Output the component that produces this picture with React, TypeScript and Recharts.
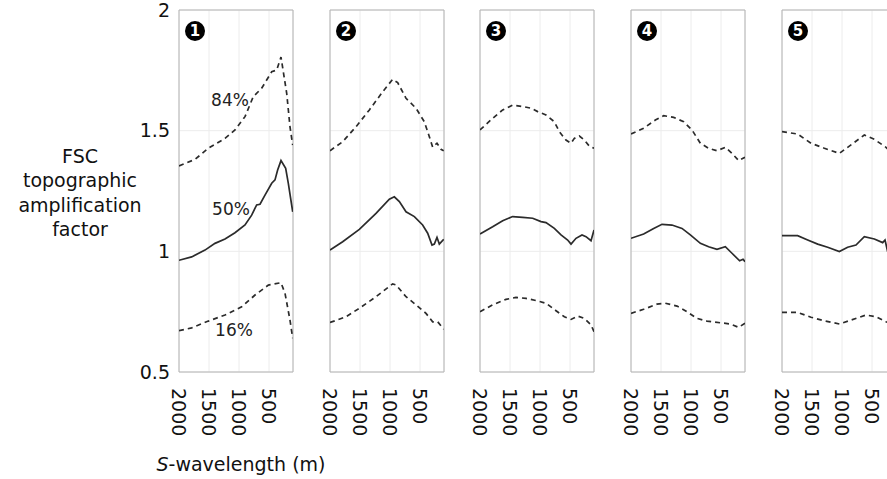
import React from "react";
import {
  LineChart,
  Line,
  XAxis,
  YAxis,
  CartesianGrid,
  ReferenceArea,
  ReferenceDot,
} from "recharts";

type Pt = { w: number; v: number };
const mk = (w: number[], v: number[]): Pt[] => w.map((x, i) => ({ w: x, v: v[i] }));

// ---- Panel 1 ----
const p1HighW = [2000, 1733, 1511, 1233, 1067, 900, 762, 622, 455, 372, 300, 205, 150, 105];
const p1HighV = [1.354, 1.381, 1.427, 1.468, 1.503, 1.558, 1.641, 1.676, 1.744, 1.751, 1.805, 1.655, 1.516, 1.44];
const p1MedW = [2000, 1789, 1567, 1400, 1233, 1067, 900, 789, 706, 650, 567, 455, 400, 356, 300, 222, 178, 105];
const p1MedV = [0.963, 0.977, 1.005, 1.033, 1.051, 1.077, 1.109, 1.15, 1.192, 1.195, 1.233, 1.282, 1.296, 1.337, 1.376, 1.344, 1.282, 1.164];
const p1LowW = [2000, 1789, 1511, 1233, 956, 733, 511, 300, 233, 150, 105];
const p1LowV = [0.671, 0.683, 0.711, 0.736, 0.77, 0.819, 0.86, 0.87, 0.826, 0.715, 0.64];

// ---- Panel 2 ----
const p2HighW = [2000, 1789, 1567, 1344, 1122, 956, 872, 733, 567, 428, 344, 289, 217, 150, 105];
const p2HighV = [1.417, 1.454, 1.516, 1.586, 1.661, 1.713, 1.699, 1.634, 1.593, 1.537, 1.475, 1.431, 1.448, 1.423, 1.417];
const p2MedW = [2000, 1789, 1511, 1233, 1011, 928, 844, 733, 594, 456, 372, 300, 261, 217, 178, 105];
const p2MedV = [1.005, 1.04, 1.091, 1.157, 1.216, 1.226, 1.206, 1.164, 1.144, 1.109, 1.075, 1.026, 1.03, 1.058, 1.03, 1.05];
const p2LowW = [2000, 1733, 1511, 1233, 956, 900, 733, 567, 400, 289, 205, 105];
const p2LowV = [0.705, 0.729, 0.764, 0.812, 0.865, 0.861, 0.812, 0.778, 0.743, 0.708, 0.708, 0.677];

// ---- Panel 3 ----
const p3HighW = [2000, 1789, 1622, 1456, 1289, 1150, 1039, 900, 761, 678, 567, 483, 428, 344, 261, 178, 100];
const p3HighV = [1.503, 1.551, 1.586, 1.606, 1.6, 1.593, 1.579, 1.565, 1.537, 1.496, 1.461, 1.448, 1.468, 1.478, 1.461, 1.436, 1.427];
const p3MedW = [2000, 1789, 1622, 1456, 1289, 1122, 983, 900, 761, 650, 539, 483, 400, 300, 233, 150, 100];
const p3MedV = [1.072, 1.102, 1.127, 1.144, 1.141, 1.137, 1.123, 1.119, 1.095, 1.068, 1.047, 1.03, 1.054, 1.068, 1.061, 1.044, 1.088];
const p3LowW = [2000, 1789, 1567, 1400, 1233, 1067, 900, 733, 594, 483, 372, 261, 150, 100];
const p3LowV = [0.75, 0.778, 0.801, 0.809, 0.805, 0.796, 0.785, 0.754, 0.729, 0.718, 0.732, 0.722, 0.695, 0.667];

// ---- Panel 4 ----
const p4HighW = [2000, 1789, 1594, 1456, 1289, 1122, 983, 844, 706, 567, 428, 317, 206, 100];
const p4HighV = [1.486, 1.51, 1.544, 1.562, 1.555, 1.537, 1.503, 1.448, 1.427, 1.417, 1.431, 1.406, 1.376, 1.39];
const p4MedW = [2000, 1789, 1622, 1483, 1317, 1150, 1011, 844, 706, 567, 428, 317, 189, 133, 100];
const p4MedV = [1.054, 1.072, 1.095, 1.112, 1.109, 1.095, 1.068, 1.033, 1.019, 1.008, 1.019, 0.992, 0.961, 0.967, 0.957];
const p4LowW = [2000, 1789, 1567, 1428, 1233, 1067, 900, 733, 511, 344, 206, 100];
const p4LowV = [0.743, 0.76, 0.781, 0.785, 0.773, 0.75, 0.722, 0.711, 0.704, 0.699, 0.685, 0.702];

// ---- Panel 5 ----
const p5HighW = [2000, 1739, 1517, 1294, 1044, 850, 628, 461, 267, 180, 100];
const p5HighV = [1.496, 1.486, 1.448, 1.427, 1.406, 1.441, 1.482, 1.464, 1.431, 1.41, 1.4];
const p5MedW = [2000, 1739, 1572, 1405, 1239, 1044, 906, 767, 628, 461, 322, 283, 240, 100];
const p5MedV = [1.065, 1.065, 1.047, 1.03, 1.017, 0.999, 1.017, 1.026, 1.061, 1.051, 1.036, 1.047, 1.0, 1.0];
const p5LowW = [2000, 1739, 1517, 1294, 1044, 850, 600, 433, 267, 180, 100];
const p5LowV = [0.747, 0.747, 0.727, 0.712, 0.699, 0.715, 0.736, 0.729, 0.708, 0.7, 0.69];

const panelNames = ["1", "2", "3", "4", "5"];
const xTicks = [2000, 1500, 1000, 500];
const yTicks = [0.5, 1, 1.5, 2];
const pctLabels = ["84%", "50%", "16%"];
const yLabelLines = ["FSC", "topographic", "amplification", "factor"];

const panels = [
  { high: mk(p1HighW, p1HighV), med: mk(p1MedW, p1MedV), low: mk(p1LowW, p1LowV) },
  { high: mk(p2HighW, p2HighV), med: mk(p2MedW, p2MedV), low: mk(p2LowW, p2LowV) },
  { high: mk(p3HighW, p3HighV), med: mk(p3MedW, p3MedV), low: mk(p3LowW, p3LowV) },
  { high: mk(p4HighW, p4HighV), med: mk(p4MedW, p4MedV), low: mk(p4LowW, p4LowV) },
  { high: mk(p5HighW, p5HighV), med: mk(p5MedW, p5MedV), low: mk(p5LowW, p5LowV) },
];

const plotLefts = [179, 330, 480, 631, 782];
const PLOT_W = 114;
const H = 479;
const LINE = "#2b2b2b";
const FONT = "'DejaVu Sans', Verdana, sans-serif";

const XTick = (props: any) => {
  const { x, y, payload } = props;
  return (
    <text
      x={x}
      y={y}
      transform={`rotate(90 ${x} ${y})`}
      textAnchor="start"
      dominantBaseline="central"
      fontSize={19}
      fontFamily={FONT}
      fill="#111"
    >
      {payload.value}
    </text>
  );
};

const YTick = (props: any) => {
  const { x, y, payload } = props;
  return (
    <text x={x} y={y} textAnchor="end" dy="0.35em" fontSize={19} fontFamily={FONT} fill="#111">
      {payload.value}
    </text>
  );
};

const Badge = (props: any) => {
  const { cx, cy, label } = props;
  return (
    <g>
      <circle cx={cx} cy={cy} r={10} fill="#000" />
      <text x={cx} y={cy} dy="0.36em" textAnchor="middle" fill="#fff" fontSize={15} fontWeight="bold" fontFamily={FONT}>
        {label}
      </text>
    </g>
  );
};

function Panel({ idx }: { idx: number }) {
  const p = panels[idx];
  const showY = idx === 0;
  const yW = showY ? 60 : 0;
  const ml = 14;
  const mr = 2;
  const left = plotLefts[idx] - yW - ml;
  const width = yW + ml + PLOT_W + mr;
  return (
    <div style={{ position: "absolute", left, top: 0 }}>
      <LineChart width={width} height={H} margin={{ top: 10, right: mr, bottom: 47, left: ml }}>
        <CartesianGrid stroke="#ececec" strokeWidth={1} />
        <XAxis
          type="number"
          dataKey="w"
          domain={[100, 2000]}
          reversed
          ticks={xTicks}
          interval={0}
          height={60}
          axisLine={false}
          tickLine={false}
          tickSize={0}
          tickMargin={16}
          tick={<XTick />}
          allowDataOverflow
        />
        <YAxis
          type="number"
          domain={[0.5, 2]}
          ticks={yTicks}
          interval={0}
          hide={!showY}
          width={yW}
          axisLine={false}
          tickLine={false}
          tickSize={0}
          tickMargin={9}
          tick={<YTick />}
          allowDataOverflow
        />
        <ReferenceArea x1={2000} x2={100} y1={0.5} y2={2} fill="none" stroke="#b4b4b4" strokeWidth={1} />
        <Line
          data={p.high}
          dataKey="v"
          type="linear"
          stroke={LINE}
          strokeWidth={1.7}
          strokeDasharray="5 4"
          dot={false}
          isAnimationActive={false}
        />
        <Line data={p.med} dataKey="v" type="linear" stroke={LINE} strokeWidth={1.7} dot={false} isAnimationActive={false} />
        <Line
          data={p.low}
          dataKey="v"
          type="linear"
          stroke={LINE}
          strokeWidth={1.7}
          strokeDasharray="5 4"
          dot={false}
          isAnimationActive={false}
        />
        <ReferenceDot
          x={1733}
          y={1.913}
          r={10}
          shape={(sp: any) => <Badge {...sp} label={panelNames[idx]} />}
          isFront
        />
      </LineChart>
    </div>
  );
}

export default function App() {
  return (
    <div
      style={{
        position: "fixed",
        left: 0,
        top: 0,
        width: 887,
        height: 479,
        overflow: "hidden",
        background: "#fff",
      }}
    >
      {panelNames.map((_, i) => (
        <Panel key={i} idx={i} />
      ))}
      <svg width={887} height={479} style={{ position: "absolute", left: 0, top: 0, pointerEvents: "none" }}>
        {yLabelLines.map((t, i) => (
          <text key={t} x={80} y={163 + i * 24.3} textAnchor="middle" fontSize={19} fontFamily={FONT} fill="#111">
            {t}
          </text>
        ))}
        <text x={241} y={471} textAnchor="middle" fontSize={19} fontFamily={FONT} fill="#111">
          <tspan fontStyle="italic">S</tspan>-wavelength (m)
        </text>
        <text x={230} y={106} textAnchor="middle" fontSize={17} fontFamily={FONT} fill="#222">
          {pctLabels[0]}
        </text>
        <text x={231} y={215} textAnchor="middle" fontSize={17} fontFamily={FONT} fill="#222">
          {pctLabels[1]}
        </text>
        <text x={234} y={336} textAnchor="middle" fontSize={17} fontFamily={FONT} fill="#222">
          {pctLabels[2]}
        </text>
      </svg>
    </div>
  );
}
